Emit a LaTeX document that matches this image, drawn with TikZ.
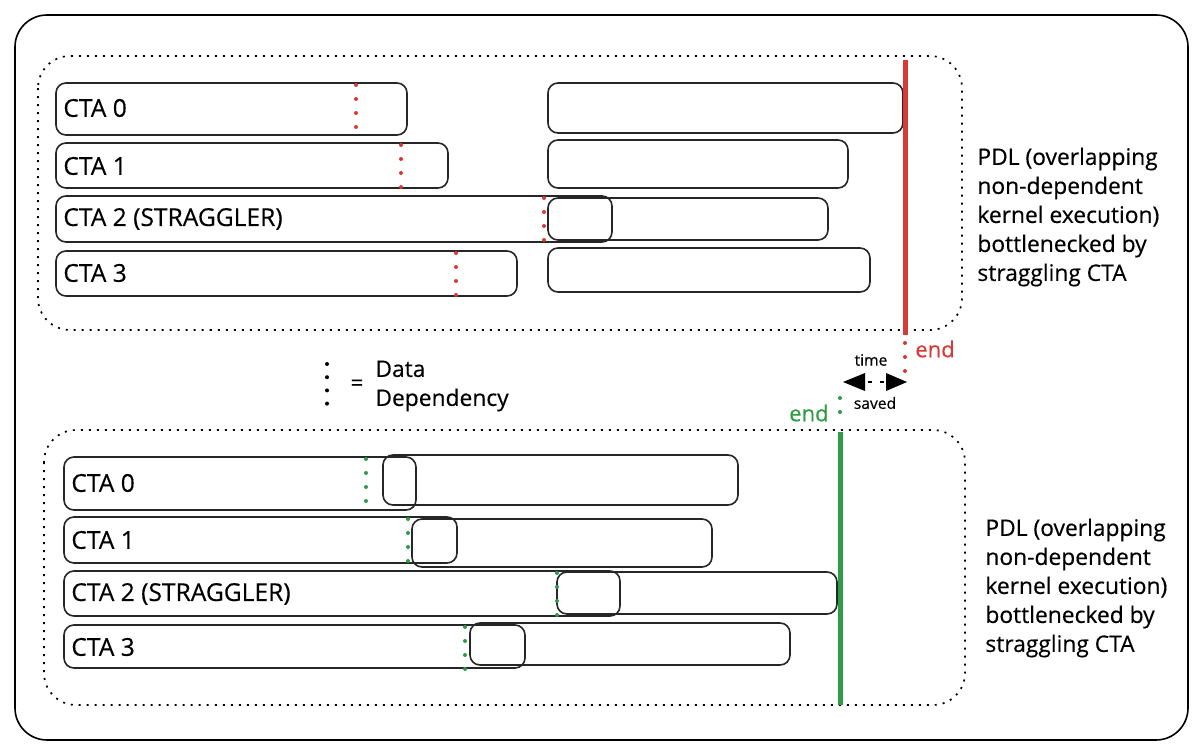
\documentclass[tikz,border=0pt]{standalone}
\usepackage{fontspec}
\setmainfont{Open Sans}[FakeBold=0.35]
\definecolor{redc}{HTML}{D63A36}
\definecolor{greenc}{HTML}{2E9B45}
\begin{document}
\begin{tikzpicture}[x=0.5pt,y=-0.5pt,
  bar/.style={draw=black!85, line width=0.8pt, rounded corners=5pt},
  panel/.style={draw=black, line width=0.85pt, dash pattern=on 1pt off 3pt, rounded corners=16pt},
  reddep/.style={draw=redc, line width=2pt, line cap=round, dash pattern=on 0pt off 7pt},
  greendep/.style={draw=greenc, line width=2pt, line cap=round, dash pattern=on 0pt off 7pt},
  lbl/.style={font=\fontsize{12.3}{14}\selectfont, anchor=west, inner sep=0pt},
  note/.style={align=left, font=\fontsize{11.4}{14.5}\selectfont, anchor=west, inner sep=0pt},
  small/.style={font=\fontsize{7.8}{9}\selectfont, inner sep=0pt}
]
\useasboundingbox (0,0) rectangle (1200,755);
% outer frame
\draw[line width=0.8pt, rounded corners=16pt] (15,15) rectangle (1188,740);
% panels
\draw[panel] (38,56) rectangle (962,330);
\draw[panel] (44,430) rectangle (965,705);

% top bars
\draw[bar] (56,83) rectangle (407,135);
\draw[bar] (548,83) rectangle (903,133);
\draw[bar] (56,143) rectangle (448,188);
\draw[bar] (548,140) rectangle (848,188);
\draw[bar] (56,196) rectangle (612,242);
\draw[bar] (548,198) rectangle (828,240);
\draw[bar] (56,251) rectangle (517,296);
\draw[bar] (548,248) rectangle (870,292);
\draw[reddep] (356,85) -- (356,135);
\draw[reddep] (401,145) -- (401,190);
\draw[reddep] (544,198) -- (544,242);
\draw[reddep] (456,253) -- (456,298);
\node[lbl] (t0) at (63,108) {CTA 0};
\node[lbl] (t1) at (63,166) {CTA 1};
\node[lbl] (t2) at (63,219) {CTA 2 (STRAGGLER)};
\node[lbl] (t3) at (63,273) {CTA 3};

% bottom bars
\draw[bar] (64,457) rectangle (416,510);
\draw[bar] (383,455) rectangle (738,505);
\draw[bar] (64,517) rectangle (457,563);
\draw[bar] (412,519) rectangle (712,567);
\draw[bar] (64,571) rectangle (620,616);
\draw[bar] (557,572) rectangle (837,614);
\draw[bar] (64,625) rectangle (525,668);
\draw[bar] (470,623) rectangle (790,665);
\draw[greendep] (366,459) -- (366,505);
\draw[greendep] (408,519) -- (408,565);
\draw[greendep] (557,573) -- (557,618);
\draw[greendep] (465,627) -- (465,672);
\node[lbl] (b0) at (71,483) {CTA 0};
\node[lbl] (b1) at (71,540) {CTA 1};
\node[lbl] (b2) at (71,594) {CTA 2 (STRAGGLER)};
\node[lbl] (b3) at (71,647) {CTA 3};

% end lines
\coordinate (rtop) at (905,60);
\coordinate (rbot) at (905,335);
\coordinate (rend) at (905,381);
\draw[redc, line width=2.5pt] (rtop) -- (rbot);
\draw[reddep] (905,343) -- (rend);
\node[font=\fontsize{11}{12}\selectfont, text=redc, anchor=west, inner sep=0pt] (rendl) at (915,349) {end};

\coordinate (gtop) at (840,432);
\coordinate (gbot) at (840,705);
\draw[greenc, line width=2.5pt] (gtop) -- (gbot);
\draw[greendep] (840,398) -- (840,426);
\node[font=\fontsize{11}{12}\selectfont, text=greenc, anchor=east, inner sep=0pt] (gendl) at (829,413) {end};

% time saved
\fill (843,382) -- (865,373) -- (865,391) -- cycle;
\fill (907,382) -- (886,373) -- (886,391) -- cycle;
\draw[line width=0.8pt, dash pattern=on 2pt off 4pt] (868,382) -- (884,382);
\node[small] (timel) at (871,360) {time};
\node[small] (savedl) at (875,403) {saved};

% legend
\draw[black, line width=2pt, line cap=round, dash pattern=on 0pt off 6.6pt] (327,364) -- (327,404);
\node[font=\fontsize{11}{12}\selectfont, inner sep=0pt] (eq) at (357,385) {=};
\node[note] (dd) at (375,386) {Data\\Dependency};

% notes
\node[note] (n1) at (977,217) {PDL (overlapping\\non-dependent\\kernel execution)\\bottlenecked by\\straggling CTA};
\node[note] (n2) at (985,588) {PDL (overlapping\\non-dependent\\kernel execution)\\bottlenecked by\\straggling CTA};
\end{tikzpicture}
\end{document}
